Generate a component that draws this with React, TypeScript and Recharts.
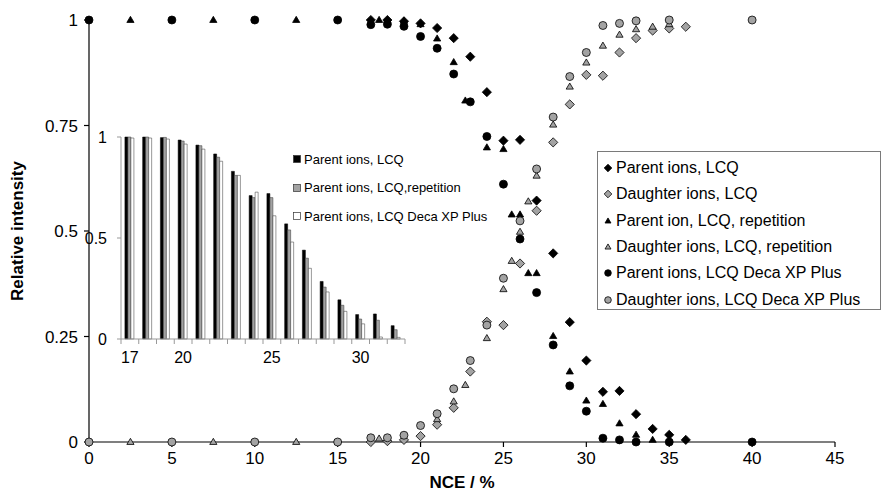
import React from 'react';
import { ScatterChart, Scatter, XAxis, YAxis, Legend, Label, BarChart, Bar } from 'recharts';

const FONT = '"Liberation Sans", Arial, Helvetica, sans-serif';
const GRAY = '#a3a3a3';

// ---------------- main chart data ----------------
const xTicks = [0, 5, 10, 15, 20, 25, 30, 35, 40, 45];
const yTicks = [0, 0.25, 0.5, 0.75, 1];

const parentLcqX = [17, 18, 19, 20, 21, 22, 23, 24, 25, 26, 27, 28, 29, 30, 31, 32, 33, 34, 35, 36];
const parentLcqY = [1.0, 1.0, 0.997, 0.992, 0.981, 0.957, 0.913, 0.829, 0.714, 0.716, 0.572, 0.447, 0.284, 0.193, 0.119, 0.121, 0.066, 0.031, 0.017, 0.005];

const daughterLcqX = [17, 18, 19, 20, 21, 22, 23, 24, 25, 26, 27, 28, 29, 30, 31, 32, 33, 34, 35, 36];
const daughterLcqY = [0.0, 0.002, 0.005, 0.014, 0.041, 0.081, 0.167, 0.285, 0.277, 0.423, 0.548, 0.71, 0.8, 0.87, 0.868, 0.923, 0.957, 0.975, 0.98, 0.984];

const parentRepX = [2.5, 7.5, 12.5, 17.5, 18, 19, 20, 21, 22, 22.7, 24, 25, 25.5, 26, 26.5, 27, 28, 29, 30, 31, 32, 33, 34];
const parentRepY = [1, 1, 1, 1, 1, 0.998, 0.99, 0.956, 0.9, 0.809, 0.698, 0.694, 0.539, 0.539, 0.4, 0.4, 0.251, 0.167, 0.098, 0.09, 0.044, 0.017, 0.005];

const daughterRepX = [2.5, 7.5, 12.5, 17.5, 21, 22, 22.7, 24, 25, 25.5, 26, 26.5, 27, 28, 29, 30, 31, 32, 33, 34, 35];
const daughterRepY = [0, 0, 0, 0.008, 0.054, 0.096, 0.135, 0.246, 0.362, 0.429, 0.498, 0.57, 0.631, 0.752, 0.842, 0.899, 0.939, 0.965, 0.978, 0.984, 0.99];

const parentDecaX = [0, 5, 10, 15, 17, 18, 19, 20, 21, 22, 23, 24, 25, 26, 27, 28, 29, 30, 31, 32, 33, 35, 40];
const parentDecaY = [1, 1, 1, 1, 0.989, 0.99, 0.985, 0.961, 0.933, 0.872, 0.806, 0.724, 0.611, 0.481, 0.354, 0.23, 0.133, 0.073, 0.009, 0.005, 0.0, 0.0, 0.0];

const daughterDecaX = [0, 5, 10, 15, 17, 18, 19, 20, 21, 22, 23, 24, 25, 26, 27, 28, 29, 30, 31, 32, 33, 35, 40];
const daughterDecaY = [0, 0, 0, 0, 0.01, 0.01, 0.016, 0.039, 0.067, 0.126, 0.193, 0.277, 0.388, 0.524, 0.647, 0.77, 0.866, 0.923, 0.987, 0.992, 0.998, 1.0, 1.0];

const seriesNames = [
  'Parent ions, LCQ',
  'Daughter ions, LCQ',
  'Parent ion, LCQ, repetition',
  'Daughter ions, LCQ, repetition',
  'Parent ions, LCQ Deca XP Plus',
  'Daughter ions, LCQ Deca XP Plus',
];

// ---------------- inset data ----------------
const insetCategories = [17, 18, 19, 20, 21, 22, 23, 24, 25, 26, 27, 28, 29, 30, 31, 32];
const insetLabeled = [17, 20, 25, 30];
const insetLcq = [1.0, 1.0, 0.997, 0.985, 0.96, 0.916, 0.83, 0.71, 0.72, 0.57, 0.44, 0.285, 0.194, 0.121, 0.124, 0.066];
const insetRep = [1.0, 1.0, 0.998, 0.98, 0.957, 0.9, 0.81, 0.7, 0.7, 0.54, 0.4, 0.257, 0.167, 0.099, 0.093, 0.046];
const insetDeca = [0.995, 0.995, 0.99, 0.965, 0.94, 0.88, 0.81, 0.727, 0.61, 0.48, 0.35, 0.233, 0.137, 0.075, 0.01, 0.008];
const insetNames = ['Parent ions, LCQ', 'Parent ions, LCQ,repetition', 'Parent ions, LCQ Deca XP Plus'];
const insetYTicks = [0, 0.5, 1];

const zip = (xs: number[], ys: number[]) => xs.map((x, i) => ({ x, y: ys[i] }));

type Kind = 'diamond' | 'triangle' | 'circle';

function drawMarker(kind: Kind, fill: string, cx: number, cy: number, s: number) {
  const stroke = '#000';
  const sw = 0.8;
  if (kind === 'diamond') {
    return (
      <path
        d={`M${cx},${cy - s} L${cx + s},${cy} L${cx},${cy + s} L${cx - s},${cy} Z`}
        fill={fill}
        stroke={stroke}
        strokeWidth={sw}
      />
    );
  }
  if (kind === 'triangle') {
    const h = s * 1.7;
    return (
      <path
        d={`M${cx},${cy - h * 0.6} L${cx + s},${cy + h * 0.4} L${cx - s},${cy + h * 0.4} Z`}
        fill={fill}
        stroke={stroke}
        strokeWidth={sw}
      />
    );
  }
  return <circle cx={cx} cy={cy} r={s} fill={fill} stroke={stroke} strokeWidth={sw} />;
}

const series: { name: string; kind: Kind; fill: string; data: { x: number; y: number }[]; size: number }[] = [
  { name: seriesNames[0], kind: 'diamond', fill: '#000', data: zip(parentLcqX, parentLcqY), size: 4.6 },
  { name: seriesNames[1], kind: 'diamond', fill: GRAY, data: zip(daughterLcqX, daughterLcqY), size: 4.6 },
  { name: seriesNames[2], kind: 'triangle', fill: '#000', data: zip(parentRepX, parentRepY), size: 3.6 },
  { name: seriesNames[3], kind: 'triangle', fill: GRAY, data: zip(daughterRepX, daughterRepY), size: 3.6 },
  { name: seriesNames[4], kind: 'circle', fill: '#000', data: zip(parentDecaX, parentDecaY), size: 4 },
  { name: seriesNames[5], kind: 'circle', fill: GRAY, data: zip(daughterDecaX, daughterDecaY), size: 4 },
];

const insetData = insetCategories.map((c, i) => ({
  nce: String(c),
  lcq: insetLcq[i],
  rep: insetRep[i],
  deca: insetDeca[i],
}));

const MainLegend = () => (
  <div
    style={{
      width: 284,
      height: 159,
      border: '1px solid #7a7a7a',
      background: '#fff',
      boxSizing: 'border-box',
      fontFamily: FONT,
      fontSize: 16,
      color: '#000',
      paddingTop: 3,
    }}
  >
    {series.map((s) => (
      <div key={s.name} style={{ height: 26.3, display: 'flex', alignItems: 'center', whiteSpace: 'nowrap' }}>
        <svg width={18} height={14} style={{ display: 'block' }}>
          {drawMarker(s.kind, s.fill, 10, 7, s.kind === 'circle' ? 3.3 : s.kind === 'diamond' ? 3.8 : 3)}
        </svg>
        <span>{s.name}</span>
      </div>
    ))}
  </div>
);

const insetFills = ['#000', GRAY, '#fff'];

const InsetLegend = () => (
  <div style={{ fontFamily: FONT, fontSize: 13, color: '#000' }}>
    {insetNames.map((n, i) => (
      <div key={n} style={{ height: 28.5, display: 'flex', alignItems: 'center', whiteSpace: 'nowrap' }}>
        <svg width={14} height={10} style={{ display: 'block' }}>
          <rect x={3.5} y={1.5} width={7} height={7} fill={insetFills[i]} stroke="#333" strokeWidth={0.7} />
        </svg>
        <span>{n}</span>
      </div>
    ))}
  </div>
);

const InsetTick = (props: any) => {
  const { x, y, payload, index } = props;
  const half = payload && typeof payload.offset === 'number' && payload.offset > 0 ? payload.offset : 8.875;
  const axisY = y - 13;
  const label = insetLabeled.includes(Number(payload.value));
  return (
    <g>
      <line x1={x - half} x2={x - half} y1={axisY} y2={axisY + 5} stroke="#999" strokeWidth={1} />
      {index === insetCategories.length - 1 && (
        <line x1={x + half} x2={x + half} y1={axisY} y2={axisY + 5} stroke="#999" strokeWidth={1} />
      )}
      {label && (
        <text x={x} y={y} dy="0.71em" textAnchor="middle" fontSize={16} fontFamily={FONT} fill="#000">
          {payload.value}
        </text>
      )}
    </g>
  );
};

export default function App() {
  return (
    <div style={{ position: 'absolute', left: 0, top: 0, width: 882, height: 498, background: '#fff' }}>
      <div style={{ position: 'absolute', left: 0, top: 0 }}>
        <ScatterChart width={882} height={498} margin={{ top: 20, right: 47, bottom: 0, left: 0 }}>
          <XAxis
            type="number"
            dataKey="x"
            domain={[0, 45]}
            ticks={xTicks}
            interval={0}
            height={56}
            axisLine={{ stroke: '#000', strokeWidth: 1.2 }}
            tickLine={{ stroke: '#000', strokeWidth: 1.2 }}
            tickSize={5}
            tickMargin={5}
            tick={{ fontSize: 17, fontFamily: FONT, fill: '#000' }}
          >
            <Label
              value="NCE / %"
              position="center"
              dy={12}
              style={{ fontSize: 17, fontWeight: 'bold', fontFamily: FONT, fill: '#000' }}
            />
          </XAxis>
          <YAxis
            type="number"
            dataKey="y"
            domain={[0, 1]}
            ticks={yTicks}
            interval={0}
            width={89}
            axisLine={{ stroke: '#000', strokeWidth: 1.2 }}
            tickLine={{ stroke: '#000', strokeWidth: 1.2 }}
            tickSize={5}
            tickMargin={6}
            tick={{ fontSize: 17, fontFamily: FONT, fill: '#000' }}
          >
            <Label
              value="Relative intensity"
              position="center"
              angle={-90}
              dx={-28}
              style={{ fontSize: 17, fontWeight: 'bold', fontFamily: FONT, fill: '#000', textAnchor: 'middle' }}
            />
          </YAxis>
          {series.map((s) => (
            <Scatter
              key={s.name}
              name={s.name}
              data={s.data}
              isAnimationActive={false}
              shape={(p: any) => drawMarker(s.kind, s.fill, p.cx, p.cy, s.size)}
            />
          ))}
          <Legend
            layout="vertical"
            align="center"
            verticalAlign="middle"
            wrapperStyle={{ left: 597, top: 151, width: 284, height: 159 }}
            content={() => <MainLegend />}
          />
        </ScatterChart>
      </div>
      <div style={{ position: 'absolute', left: 0, top: 0 }}>
        <BarChart
          width={882}
          height={498}
          data={insetData}
          margin={{ top: 137, right: 477, bottom: 129, left: 81 }}
          barCategoryGap="22%"
          barGap={0}
        >
          <XAxis
            dataKey="nce"
            type="category"
            interval={0}
            height={30}
            axisLine={{ stroke: '#999', strokeWidth: 1 }}
            tickLine={false}
            tickSize={5}
            tickMargin={8}
            tick={<InsetTick />}
          />
          <YAxis
            type="number"
            domain={[0, 1]}
            ticks={insetYTicks}
            interval={0}
            width={40}
            axisLine={{ stroke: '#999', strokeWidth: 1 }}
            tickLine={{ stroke: '#999', strokeWidth: 1 }}
            tickSize={4}
            tickMargin={10}
            tick={{ fontSize: 16, fontFamily: FONT, fill: '#000' }}
          />
          <Bar dataKey="lcq" name={insetNames[0]} fill="#000" stroke="#000" strokeWidth={0.5} isAnimationActive={false} />
          <Bar dataKey="rep" name={insetNames[1]} fill={GRAY} stroke="#333" strokeWidth={0.5} isAnimationActive={false} />
          <Bar dataKey="deca" name={insetNames[2]} fill="#fff" stroke="#333" strokeWidth={0.5} isAnimationActive={false} />
          <Legend
            layout="vertical"
            align="center"
            verticalAlign="middle"
            wrapperStyle={{ left: 290, top: 145, width: 200, height: 86 }}
            content={() => <InsetLegend />}
          />
        </BarChart>
      </div>
    </div>
  );
}
